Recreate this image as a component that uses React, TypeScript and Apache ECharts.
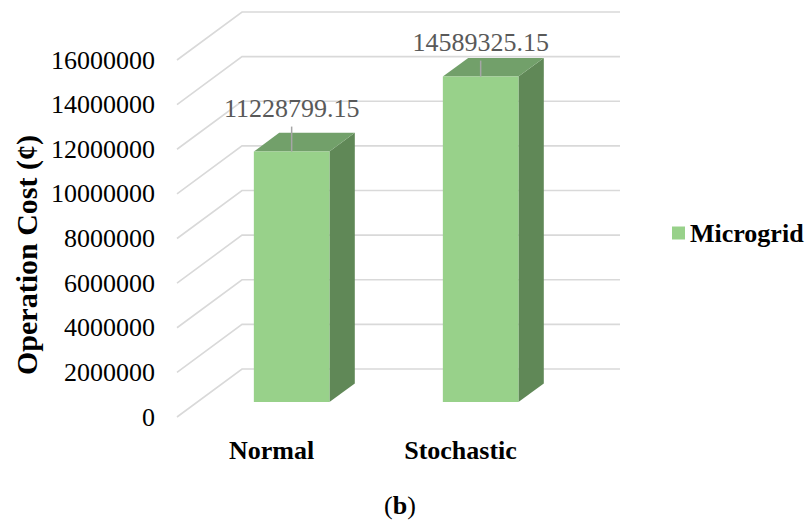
import React, { useEffect, useRef } from "react";
import * as echarts from "echarts";

const categories = ["Normal", "Stochastic"];
const seriesName = "Microgrid";
const costValues = [11228799.15, 14589325.15];
const valueLabels = ["11228799.15", "14589325.15"];
const yTicks = [0, 2000000, 4000000, 6000000, 8000000, 10000000, 12000000, 14000000, 16000000];

// label lift above bar top (pixels), per bar
const labelLift = [43, 34];

const SERIF = "Liberation Serif";
const DEPTH_X = 65;
const DEPTH_Y = -48;
const F1 = 0.31;
const F2 = 0.7;
const FRONT = "#98D18A";
const TOPC = "#72A06A";
const SIDE = "#608857";

export default function App() {
  const ref = useRef<HTMLDivElement>(null);
  useEffect(() => {
    if (!ref.current) return;
    const chart = echarts.init(ref.current, null, { renderer: "svg" });
    const option: any = {
      animation: false,
      backgroundColor: "#ffffff",
      textStyle: { fontFamily: SERIF },
      grid: { left: 177, top: 60, width: 378, height: 357, containLabel: false },
      legend: {
        data: [seriesName],
        left: 667,
        top: 215,
        icon: "rect",
        itemWidth: 13,
        itemHeight: 13,
        textStyle: { fontFamily: SERIF, fontWeight: "bold", fontSize: 26, color: "#000" },
      },
      xAxis: {
        type: "category",
        data: categories,
        axisLine: { show: false },
        axisTick: { show: false },
        splitLine: { show: false },
        axisLabel: { fontFamily: SERIF, fontWeight: "bold", fontSize: 26, color: "#000", margin: 20 },
      },
      yAxis: {
        type: "value",
        min: 0,
        max: 16000000,
        interval: 2000000,
        axisLine: { show: false },
        axisTick: { show: false },
        splitLine: { show: false },
        axisLabel: {
          fontFamily: SERIF,
          fontSize: 26,
          color: "#000",
          margin: 22,
          formatter: (v: number) => String(v),
        },
      },
      graphic: [
        {
          type: "text",
          x: 26,
          y: 255,
          rotation: Math.PI / 2,
          style: {
            text: "Operation Cost (¢)",
            fontFamily: SERIF,
            fontWeight: "bold",
            fontSize: 30,
            fill: "#000",
            align: "center",
            verticalAlign: "middle",
          },
        },
        {
          type: "text",
          x: 400,
          y: 505,
          style: {
            text: "({b|b})",
            fontFamily: SERIF,
            fontSize: 26,
            fill: "#000",
            align: "center",
            verticalAlign: "middle",
            rich: { b: { fontFamily: SERIF, fontWeight: "bold", fontSize: 26, fill: "#000" } },
          },
        },
      ],
      series: [
        {
          type: "custom",
          name: "grid-lines",
          silent: true,
          z: 1,
          data: yTicks.map((v) => [0, v]),
          renderItem: (params: any, api: any) => {
            const cs = params.coordSys;
            const y = api.coord([0, api.value(1)])[1];
            return {
              type: "polyline",
              shape: {
                points: [
                  [cs.x, y],
                  [cs.x + DEPTH_X, y + DEPTH_Y],
                  [cs.x + cs.width + DEPTH_X, y + DEPTH_Y],
                ],
              },
              style: { stroke: "#d9d9d9", lineWidth: 1.6, fill: "none" },
            };
          },
        },
        {
          type: "custom",
          name: seriesName,
          z: 5,
          itemStyle: { color: FRONT },
          data: costValues.map((v, i) => [i, v]),
          renderItem: (params: any, api: any) => {
            const idx = params.dataIndex;
            const cat = api.value(0);
            const val = api.value(1);
            const base = api.coord([cat, 0]);
            const top = api.coord([cat, val]);
            const band = api.size([1, 0])[0];
            const w = band * 0.4;
            const x0 = base[0] - w / 2 + DEPTH_X * F1;
            const yb = base[1] + DEPTH_Y * F1;
            const yt = top[1] + DEPTH_Y * F1;
            const dx = DEPTH_X * (F2 - F1);
            const dy = DEPTH_Y * (F2 - F1);
            const cx = x0 + w / 2;
            const labelY = yt - labelLift[idx];
            return {
              type: "group",
              children: [
                {
                  type: "polygon",
                  shape: { points: [[x0 + w, yt], [x0 + w, yb], [x0 + w + dx, yb + dy], [x0 + w + dx, yt + dy]] },
                  style: { fill: SIDE },
                },
                {
                  type: "polygon",
                  shape: { points: [[x0, yt], [x0 + w, yt], [x0 + w + dx, yt + dy], [x0 + dx, yt + dy]] },
                  style: { fill: TOPC },
                },
                {
                  type: "rect",
                  shape: { x: x0, y: yt, width: w, height: yb - yt },
                  style: { fill: FRONT },
                },
                {
                  type: "line",
                  shape: { x1: cx, y1: labelY + 18, x2: cx, y2: yt },
                  style: { stroke: "#a6a6a6", lineWidth: 1.5 },
                },
                {
                  type: "text",
                  x: cx,
                  y: labelY,
                  style: {
                    text: valueLabels[idx],
                    fontFamily: SERIF,
                    fontSize: 26,
                    fill: "#595959",
                    align: "center",
                    verticalAlign: "middle",
                  },
                },
              ],
            };
          },
        },
      ],
    };
    chart.setOption(option);
    return () => chart.dispose();
  }, []);
  return (
    <div
      ref={ref}
      style={{ position: "fixed", left: 0, top: 0, width: 806, height: 532, background: "#fff" }}
    />
  );
}
